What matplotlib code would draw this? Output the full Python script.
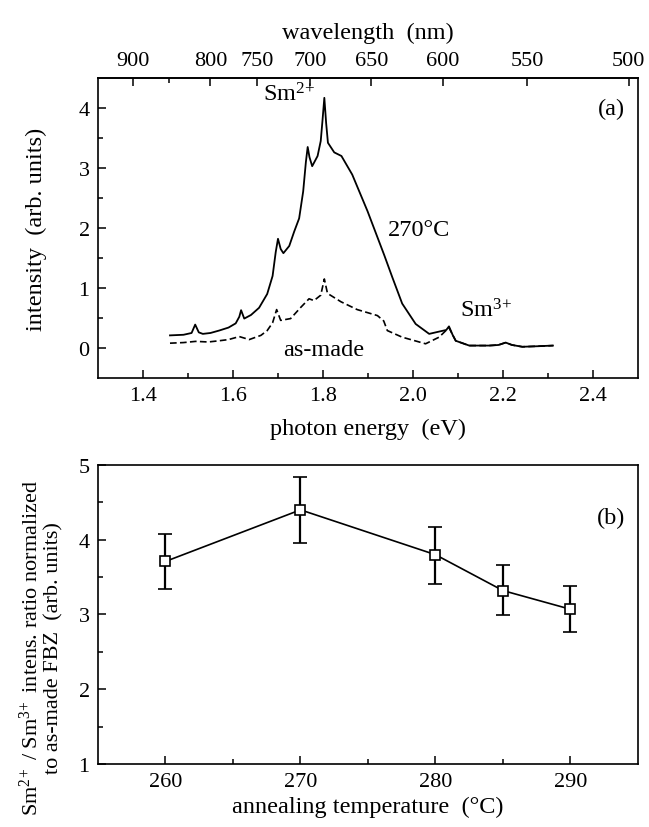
import numpy as np
import matplotlib
matplotlib.use("Agg")
import matplotlib.pyplot as plt

plt.rcParams['font.family'] = ['Liberation Serif', 'DejaVu Serif']
plt.rcParams['mathtext.fontset'] = 'custom'
plt.rcParams['mathtext.rm'] = 'Liberation Serif'
plt.rcParams['mathtext.default'] = 'regular'

# panel (a): PL spectra, photon energy (eV) vs intensity (arb. units)
e_270 = [1.460, 1.490, 1.508, 1.516, 1.524, 1.533, 1.550, 1.569, 1.590, 1.606,
         1.614, 1.618, 1.625, 1.640, 1.658, 1.676, 1.688, 1.695, 1.700, 1.706,
         1.712, 1.725, 1.736, 1.747, 1.756, 1.762, 1.766, 1.770, 1.776, 1.788,
         1.795, 1.799, 1.803, 1.807, 1.811, 1.825, 1.841, 1.865, 1.899, 1.936,
         1.954, 1.976, 2.006, 2.036, 2.062, 2.074, 2.080, 2.088, 2.095, 2.125,
         2.169, 2.190, 2.206, 2.220, 2.243, 2.280, 2.311]
i_270 = [0.21, 0.22, 0.25, 0.39, 0.26, 0.235, 0.25, 0.29, 0.34, 0.41,
         0.52, 0.63, 0.49, 0.55, 0.67, 0.90, 1.20, 1.60, 1.82, 1.65,
         1.58, 1.70, 1.94, 2.16, 2.61, 3.10, 3.35, 3.18, 3.03, 3.20,
         3.45, 3.80, 4.17, 3.75, 3.42, 3.26, 3.20, 2.89, 2.28, 1.55,
         1.18, 0.74, 0.40, 0.235, 0.28, 0.30, 0.36, 0.22, 0.12, 0.04,
         0.04, 0.05, 0.09, 0.05, 0.02, 0.03, 0.04]

e_made = [1.460, 1.490, 1.517, 1.545, 1.569, 1.590, 1.614, 1.636, 1.662, 1.676,
          1.688, 1.697, 1.706, 1.728, 1.751, 1.769, 1.780, 1.795, 1.803, 1.810,
          1.840, 1.876, 1.921, 1.935, 1.943, 1.976, 2.028, 2.058, 2.080, 2.088,
          2.095, 2.125, 2.169, 2.190, 2.206, 2.220, 2.243, 2.280, 2.311]
i_made = [0.08, 0.09, 0.11, 0.10, 0.12, 0.14, 0.19, 0.14, 0.21, 0.29,
          0.42, 0.64, 0.46, 0.49, 0.68, 0.82, 0.79, 0.88, 1.15, 0.91,
          0.77, 0.64, 0.54, 0.45, 0.29, 0.18, 0.07, 0.18, 0.34, 0.22,
          0.12, 0.04, 0.04, 0.05, 0.09, 0.05, 0.02, 0.03, 0.04]

wl_ticks = [900, 800, 750, 700, 650, 600, 550, 500]

# panel (b): ratio vs annealing temperature
temp = [260, 270, 280, 285, 290]
ratio = [3.71, 4.40, 3.80, 3.32, 3.07]
err_low = [3.34, 3.96, 3.41, 2.99, 2.76]
err_high = [4.08, 4.84, 4.17, 3.66, 3.38]


def ev2nm(x):
    x = np.asarray(x, dtype=float)
    with np.errstate(divide='ignore', invalid='ignore'):
        return 1239.84 / x


fig = plt.figure(figsize=(6.49, 8.28), dpi=100)
ax1 = fig.add_axes([0.151, 0.5423, 0.832, 0.3623])
ax2 = fig.add_axes([0.151, 0.0761, 0.832, 0.3611])

tick_fs = 16
lab_fs = 17.5

for ax in (ax1, ax2):
    for s in ax.spines.values():
        s.set_linewidth(1.2)
    ax.tick_params(which='both', direction='in', top=False, right=False,
                   labelsize=tick_fs, width=1.1)
    ax.tick_params(which='major', length=6, pad=6)
    ax.tick_params(which='minor', length=3.5)

# (a)
ax1.plot(e_270, i_270, color='black', lw=1.3)
ax1.plot(e_made, i_made, color='black', lw=1.2, linestyle=(0, (4, 2)))
ax1.set_xlim(1.3, 2.5)
ax1.set_ylim(-0.5, 4.5)
ax1.set_xticks([1.4, 1.6, 1.8, 2.0, 2.2, 2.4])
ax1.set_xticks(np.arange(1.5, 2.45, 0.2), minor=True)
ax1.set_yticks([0, 1, 2, 3, 4])
ax1.set_yticks([0.5, 1.5, 2.5, 3.5], minor=True)
ax1.set_xlabel('photon energy  (eV)', fontsize=lab_fs, labelpad=9)
ax1.set_ylabel('intensity  (arb. units)', fontsize=lab_fs)
ax1.yaxis.set_label_coords(-0.094, 0.5)

sec = ax1.secondary_xaxis('top', functions=(ev2nm, ev2nm))
sec.set_xticks(wl_ticks)
sec.set_xticks([850], minor=True)
sec.tick_params(which='both', direction='in', labelsize=tick_fs, width=1.1)
sec.tick_params(which='major', length=6, pad=6)
sec.tick_params(which='minor', length=3.5)
sec.spines['top'].set_linewidth(1.2)
sec.set_xlabel('wavelength  (nm)', fontsize=lab_fs, labelpad=9)

ax1.text(1.667, 4.23, r'Sm$^{2\!+}$', fontsize=lab_fs, ha='left', va='center')
ax1.text(1.945, 1.97, '270°C', fontsize=lab_fs, ha='left', va='center')
ax1.text(2.105, 0.63, r'Sm$^{3\!+}$', fontsize=lab_fs, ha='left', va='center')
ax1.text(1.802, -0.02, 'as-made', fontsize=lab_fs, ha='center', va='center')
ax1.text(0.95, 0.90, '(a)', fontsize=lab_fs, ha='center', va='center',
         transform=ax1.transAxes)

# (b)
yerr = [np.array(ratio) - np.array(err_low), np.array(err_high) - np.array(ratio)]
ax2.errorbar(temp, ratio, yerr=yerr, color='black', lw=1.2, elinewidth=1.6,
             capsize=5, capthick=1.6, marker='s', markersize=7,
             markerfacecolor='white', markeredgecolor='black', markeredgewidth=1.2)
ax2.set_xlim(255, 295)
ax2.set_ylim(1, 5)
ax2.set_xticks([260, 270, 280, 290])
ax2.set_xticks([265, 275, 285], minor=True)
ax2.set_yticks([1, 2, 3, 4, 5])
ax2.set_yticks([1.5, 2.5, 3.5, 4.5], minor=True)
ax2.set_xlabel('annealing temperature  (°C)', fontsize=lab_fs, labelpad=3)
ax2.set_ylabel('Sm$^{2\\!+}$ / Sm$^{3\\!+}$ intens. ratio normalized\n'
               'to as-made FBZ  (arb. units)', fontsize=16,
               multialignment='center', linespacing=1.15)
ax2.yaxis.set_label_coords(-0.063, 0.39)
ax2.text(0.95, 0.826, '(b)', fontsize=lab_fs, ha='center', va='center',
         transform=ax2.transAxes)

fig.savefig('out.png', dpi=100)
